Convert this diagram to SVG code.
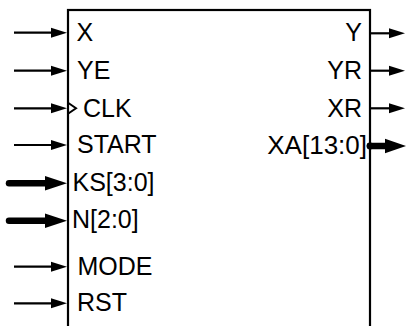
<svg xmlns="http://www.w3.org/2000/svg" width="406" height="326" viewBox="0 0 406 326">
  <style>
    .lbl { font-family: "Liberation Sans", Arial, sans-serif; font-size: 25px; fill: #000; }
    .r { text-anchor: end; }
    .wire { stroke: #000; stroke-width: 2.2; fill: none; }
    .bus { stroke: #000; stroke-width: 6.5; stroke-linecap: round; fill: none; }
    .head { fill: #000; stroke: none; }
    .box { fill: #fff; stroke: #000; stroke-width: 2.2; }
  </style>

  <g id="block">
    <rect class="box" x="68" y="10" width="302" height="330"/>
    <!-- clock marker -->
    <polyline points="68,102.8 76,108.3 68,113.8" fill="none" stroke="#000" stroke-width="2"/>
  </g>

  <g id="connectors">
    <!-- single-bit inputs -->
    <g id="in-X"><line class="wire" x1="14" y1="32.7" x2="55" y2="32.7"/><polygon class="head" points="51,27.7 67,32.7 51,37.7"/></g>
    <g id="in-YE"><line class="wire" x1="14" y1="70.7" x2="55" y2="70.7"/><polygon class="head" points="51,65.7 67,70.7 51,75.7"/></g>
    <g id="in-CLK"><line class="wire" x1="14" y1="108.3" x2="55" y2="108.3"/><polygon class="head" points="51,103.3 67,108.3 51,113.3"/></g>
    <g id="in-START"><line class="wire" x1="14" y1="145" x2="55" y2="145"/><polygon class="head" points="51,140 67,145 51,150"/></g>
    <g id="in-MODE"><line class="wire" x1="14" y1="266.7" x2="55" y2="266.7"/><polygon class="head" points="51,261.7 67,266.7 51,271.7"/></g>
    <g id="in-RST"><line class="wire" x1="14" y1="303.3" x2="55" y2="303.3"/><polygon class="head" points="51,298.3 67,303.3 51,308.3"/></g>
    <!-- bus inputs -->
    <g id="in-KS"><line class="bus" x1="9" y1="183.3" x2="50" y2="183.3"/><polygon class="head" points="45,176 67,183.3 45,190.6"/></g>
    <g id="in-N"><line class="bus" x1="9" y1="220.7" x2="50" y2="220.7"/><polygon class="head" points="45,213.4 67,220.7 45,228"/></g>
    <!-- outputs -->
    <g id="out-Y"><line class="wire" x1="370" y1="33.3" x2="392" y2="33.3"/><polygon class="head" points="389,28.3 405,33.3 389,38.3"/></g>
    <g id="out-YR"><line class="wire" x1="370" y1="70.7" x2="392" y2="70.7"/><polygon class="head" points="389,65.7 405,70.7 389,75.7"/></g>
    <g id="out-XR"><line class="wire" x1="370" y1="108.3" x2="392" y2="108.3"/><polygon class="head" points="389,103.3 405,108.3 389,113.3"/></g>
    <g id="out-XA"><circle class="head" cx="370" cy="146" r="3.4"/><line class="bus" x1="370" y1="146" x2="390" y2="146"/><polygon class="head" points="385,138.7 406,146 385,153.3"/></g>
  </g>

  <g id="labels">
    <text class="lbl" x="76.5" y="41">X</text>
    <text class="lbl" x="77" y="79">YE</text>
    <text class="lbl" x="83" y="116.5">CLK</text>
    <text class="lbl" x="77" y="152.5">START</text>
    <text class="lbl" x="72.5" y="191">KS[3:0]</text>
    <text class="lbl" x="72" y="228">N[2:0]</text>
    <text class="lbl" x="77.5" y="274.5">MODE</text>
    <text class="lbl" x="77" y="311">RST</text>
    <text class="lbl r" x="362" y="41">Y</text>
    <text class="lbl r" x="362" y="79">YR</text>
    <text class="lbl r" x="362" y="116.5">XR</text>
    <text class="lbl r" x="367" y="153.5" style="font-size:26px">XA[13:0]</text>
  </g>
</svg>
